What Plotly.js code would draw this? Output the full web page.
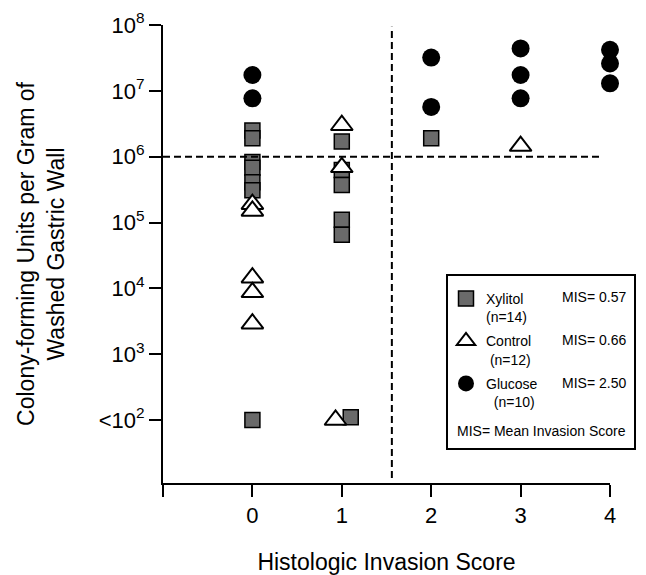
<!DOCTYPE html>
<html>
<head>
<meta charset="utf-8">
<script src="https://cdn.plot.ly/plotly-3.0.1.min.js"></script>
<style>html,body{margin:0;padding:0;background:#fff;}#chart{width:646px;height:575px;}</style>
</head>
<body>
<div id="chart"></div>
<script>
// ---- data ----
const xylitolX = [0, 0, 0, 0, 0, 0, 0, 1, 1, 1, 1, 1, 1.1, 2];
const xylitolY = [2.5e6, 1.9e6, 8.3e5, 6.8e5, 4.1e5, 3.1e5, 100, 1.7e6, 6.3e5, 3.7e5, 1.1e5, 6.5e4, 110, 1.9e6];
const controlX = [0, 0, 0, 0, 0, 1, 1, 0.93, 3];
const controlY = [1.9e5, 1.5e5, 1.45e4, 8.7e3, 2.9e3, 3.0e6, 6.9e5, 100, 1.45e6];
const glucoseX = [0, 0, 2, 2, 3, 3, 3, 4, 4, 4];
const glucoseY = [1.74e7, 7.7e6, 3.2e7, 5.7e6, 4.4e7, 1.74e7, 7.7e6, 4.2e7, 2.6e7, 1.3e7];
const seriesNames = ['Xylitol<br>(n=14)', 'Control<br>\u00a0(n=12)', 'Glucose<br>\u00a0\u00a0(n=10)'];
const misLabels = ['MIS= 0.57', 'MIS= 0.66', 'MIS= 2.50'];
const xTickVals = [-1, 0, 1, 2, 3, 4];
const xTickText = ['', '0', '1', '2', '3', '4'];
const yTickVals = [1e2, 1e3, 1e4, 1e5, 1e6, 1e7, 1e8];
const yTickText = ['&lt;10<sup>2</sup>', '10<sup>3</sup>', '10<sup>4</sup>', '10<sup>5</sup>', '10<sup>6</sup>', '10<sup>7</sup>', '10<sup>8</sup>'];
const thresholdCFU = 1e6;
const thresholdScore = 1.56;

const FONT = 'Liberation Sans, Arial, Helvetica, sans-serif';

const traces = [
  {x: xylitolX, y: xylitolY, name: seriesNames[0], legendgroup: 'g1', mode: 'markers', type: 'scatter', cliponaxis: false,
   marker: {symbol: 'square', size: 15, color: '#6a6a6a', line: {color: '#000', width: 1.5}}},
  {x: controlX, y: controlY, name: seriesNames[1], legendgroup: 'g2', mode: 'markers', type: 'scatter', cliponaxis: false,
   marker: {symbol: 'triangle-up', size: 19, color: '#fff', line: {color: '#000', width: 2}}},
  {x: glucoseX, y: glucoseY, name: seriesNames[2], legendgroup: 'g3', mode: 'markers', type: 'scatter', cliponaxis: false,
   marker: {symbol: 'circle', size: 18, color: '#000', line: {color: '#000', width: 0}}}
];

function px2paperX(p){ return (p - 163) / 447; }
function px2paperY(p){ return (483 - p) / 458; }

const layout = {
  width: 646, height: 575,
  margin: {l: 163, r: 36, t: 25, b: 92, pad: 0},
  paper_bgcolor: '#fff', plot_bgcolor: '#fff',
  font: {family: FONT, color: '#000', size: 22},
  showlegend: true,
  legend: {x: px2paperX(446), y: px2paperY(283), xanchor: 'left', yanchor: 'top',
           bgcolor: 'rgba(0,0,0,0)', borderwidth: 0, valign: 'top', tracegroupgap: 3,
           font: {family: FONT, size: 14, color: '#000'}},
  xaxis: {range: [-1, 4], tickvals: xTickVals, ticktext: xTickText, ticks: 'outside', ticklen: 12, tickwidth: 2,
          tickcolor: '#000', showline: true, linewidth: 2, linecolor: '#000', showgrid: false, zeroline: false,
          tickfont: {family: FONT, size: 22, color: '#000'}, fixedrange: true,
          title: {text: 'Histologic Invasion Score', font: {family: FONT, size: 23, color: '#000'}, standoff: 26}},
  yaxis: {type: 'log', range: [1.043, 8], tickvals: yTickVals, ticktext: yTickText, ticks: 'outside', ticklen: 12, tickwidth: 2,
          tickcolor: '#000', showline: true, linewidth: 2, linecolor: '#000', showgrid: false, zeroline: false,
          tickfont: {family: FONT, size: 22, color: '#000'}, fixedrange: true,
          title: {text: 'Colony-forming Units per Gram of<br>Washed Gastric Wall', font: {family: FONT, size: 23, color: '#000'}, standoff: 28}},
  shapes: [
    {type: 'line', xref: 'x', yref: 'y', x0: -1, x1: 3.92, y0: thresholdCFU, y1: thresholdCFU,
     line: {color: '#000', width: 2, dash: '7px,4px'}},
    {type: 'line', xref: 'x', yref: 'paper', x0: thresholdScore, x1: thresholdScore, y0: 0.011, y1: 0.996,
     line: {color: '#000', width: 2, dash: '7px,4px'}},
    {type: 'rect', xref: 'paper', yref: 'paper', x0: px2paperX(447), x1: px2paperX(635), y0: px2paperY(449), y1: px2paperY(275),
     line: {color: '#000', width: 2}, fillcolor: 'rgba(0,0,0,0)'}
  ],
  annotations: [
    {xref: 'paper', yref: 'paper', x: px2paperX(560), y: px2paperY(297), xanchor: 'left', yanchor: 'middle', showarrow: false,
     text: misLabels[0], font: {family: FONT, size: 14, color: '#000'}},
    {xref: 'paper', yref: 'paper', x: px2paperX(560), y: px2paperY(340), xanchor: 'left', yanchor: 'middle', showarrow: false,
     text: misLabels[1], font: {family: FONT, size: 14, color: '#000'}},
    {xref: 'paper', yref: 'paper', x: px2paperX(560), y: px2paperY(383), xanchor: 'left', yanchor: 'middle', showarrow: false,
     text: misLabels[2], font: {family: FONT, size: 14, color: '#000'}},
    {xref: 'paper', yref: 'paper', x: px2paperX(455), y: px2paperY(431), xanchor: 'left', yanchor: 'middle', showarrow: false,
     text: 'MIS= Mean Invasion Score', font: {family: FONT, size: 14, color: '#000'}}
  ]
};

Plotly.newPlot('chart', traces, layout, {displayModeBar: false, staticPlot: true});
</script>
</body>
</html>
